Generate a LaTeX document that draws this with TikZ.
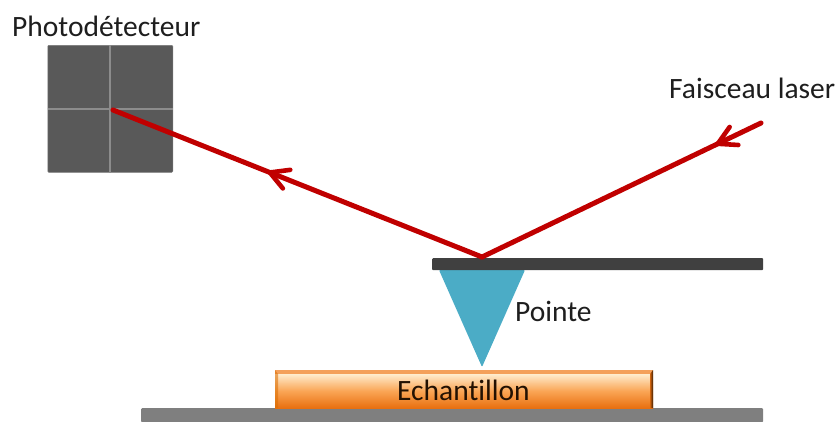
\documentclass[tikz,border=0pt]{standalone}
\usepackage{fontspec}
\setmainfont[Ligatures=NoCommon]{Carlito}
\usetikzlibrary{decorations.markings}
\definecolor{beam}{RGB}{192,0,0}
\definecolor{detfill}{RGB}{89,89,89}
\definecolor{detline}{RGB}{140,140,140}
\definecolor{canti}{RGB}{64,64,64}
\definecolor{tipblue}{RGB}{75,172,198}
\definecolor{basegray}{RGB}{127,127,127}
\definecolor{orA}{RGB}{244,160,90}
\definecolor{orB}{RGB}{255,236,205}
\definecolor{orC}{RGB}{250,165,85}
\definecolor{orD}{RGB}{232,112,16}
\definecolor{txt}{RGB}{30,30,30}
\tikzset{
  lbl/.style={font=\fontsize{29.5}{32}\selectfont,text=txt,inner sep=0pt,anchor=base west},
  beamline/.style={draw=beam,line width=5pt,line cap=round},
  barb/.style={postaction={decorate,decoration={markings,mark=at position #1 with {\draw[beam,line width=4.6pt,line cap=round,line join=miter] (-18pt,-10pt) -- (0pt,0pt) -- (-18pt,10pt);}}}},
  block/.style={inner sep=0pt,minimum width=0pt,minimum height=0pt,rounded corners=1pt}
}
\begin{document}
\begin{tikzpicture}[x=1pt,y=-1pt]
\useasboundingbox (0,0) rectangle (839,421);
% base
\node[block,fill=basegray,minimum width=622pt,minimum height=14pt,anchor=north west] (base) at (141,408) {};
% sample
\shade[bottom color=orD,top color=orB,middle color=orC] (275,374) rectangle (653,408);
\fill[orA] (275,370) rectangle (653,374);
\fill[orange!85!black,opacity=.55] (275,370) -- (278,374) -- (278,408) -- (275,408) -- cycle;
\shade[left color=orD!90!black,right color=black!75!orD] (650,374) -- (653,370) -- (653,408) -- (650,408) -- cycle;
\node[lbl,text=black!85!orD] (sample) at (397,400) {Echantillon};
% tip
\fill[tipblue,rounded corners=1pt] (439,270) -- (525,270) -- (482,367) -- cycle;
\coordinate (tipb) at (482,367);
% cantilever
\node[block,fill=canti,minimum width=331pt,minimum height=12pt,anchor=north west] (canti) at (432,258) {};
% detector
\node[block,fill=detfill,draw=detline!60!detfill,line width=.5pt,minimum width=125pt,minimum height=127pt,anchor=north west] (det) at (47.5,45) {};
\draw[detline,line width=1.6pt] (det.north) -- (det.south);
\draw[detline,line width=1.6pt] (det.west) -- (det.east);
% beam
\coordinate (laser) at (761,123);
\coordinate (refl) at (482,257);
\coordinate (spot) at (113,110);
\draw[beamline,barb=0.155] (laser) -- (refl);
\draw[beamline,barb=0.575] (refl) -- (spot);
% labels
\node[lbl] (l1) at (12,36) {Photodétecteur};
\node[lbl] (l2) at (669,98) {Faisceau laser};
\node[lbl] (l3) at (515,321) {Pointe};
\end{tikzpicture}
\end{document}
